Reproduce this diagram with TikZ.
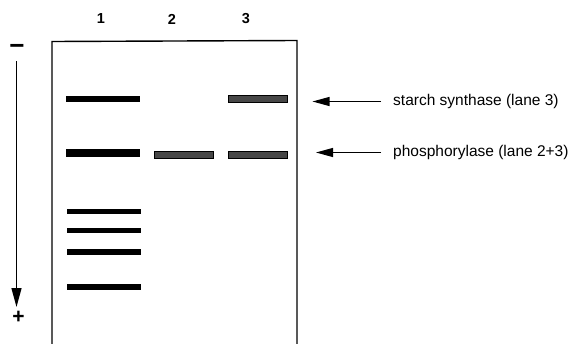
\documentclass[tikz,border=0pt]{standalone}
\usepackage{fontspec}
\setmainfont{Liberation Sans}
\usetikzlibrary{arrows.meta}
\tikzset{
  lbl/.style={font=\fontsize{15.5}{18}\selectfont, inner sep=0pt},
  lanenum/.style={font=\bfseries\fontsize{14.5}{18}\selectfont, inner sep=0pt},
  bandblack/.style={fill=black, draw=none, inner sep=0pt, minimum width=74pt, minimum height=5.5pt},
  bandgrey/.style={fill=black!72, draw=black, line width=0.5pt, inner sep=0pt, minimum width=59pt, minimum height=7.5pt},
  gel/.style={line width=1.4pt},
  pointer/.style={line width=1.1pt, -{Triangle[length=17pt,width=9pt]}},
  sign/.style={font=\bfseries\fontsize{21}{22}\selectfont, inner sep=0pt}
}
\begin{document}
\begin{tikzpicture}[x=1pt,y=-1pt]
\useasboundingbox (0,0) rectangle (575,343);
% gel outline
\draw[gel] (52,345) -- (52,41.5) -- (297,40.5) -- (297,345);
% lane numbers
\node[lanenum] (n1) at (101,19) {1};
\node[lanenum] (n2) at (172,19) {2};
\node[lanenum] (n3) at (246,19) {3};
% lane 1 bands
\node[bandblack] (b11) at (103.3,99) {};
\node[bandblack, minimum height=8pt] (b12) at (103.3,152.5) {};
\node[bandblack, minimum height=5pt] (b13) at (103.7,211.7) {};
\node[bandblack, minimum height=5pt] (b14) at (103.7,230.2) {};
\node[bandblack, minimum height=5.5pt] (b15) at (103.7,252.2) {};
\node[bandblack, minimum height=6pt] (b16) at (103.7,287) {};
% lane 2
\node[bandgrey] (b21) at (184,154.5) {};
% lane 3
\node[bandgrey, minimum height=6.5pt] (b31) at (257.3,98.5) {};
\node[bandgrey] (b32) at (257.3,154.5) {};
% labels and pointers
\node[lbl, anchor=west] (s1) at (393,101.5) {starch synthase (lane 3)};
\node[lbl, anchor=west] (s2) at (393,152.5) {phosphorylase (lane 2+3)};
\coordinate (t1) at (312.5,101.5);
\coordinate (t2) at (316,152.5);
\draw[pointer] ([xshift=-12pt]s1.west) -- (t1);
\draw[pointer] ([xshift=-12pt]s2.west) -- (t2);
% electrophoresis direction
\node[sign, font=\bfseries\fontsize{26}{26}\selectfont] (minus) at (17,49.5) {\char"2212};
\node[sign] (plus) at (18.5,317) {+};
\draw[line width=1.4pt, -{Triangle[length=19pt,width=10pt]}] (16.5,61) -- (16.5,307);
\end{tikzpicture}
\end{document}
